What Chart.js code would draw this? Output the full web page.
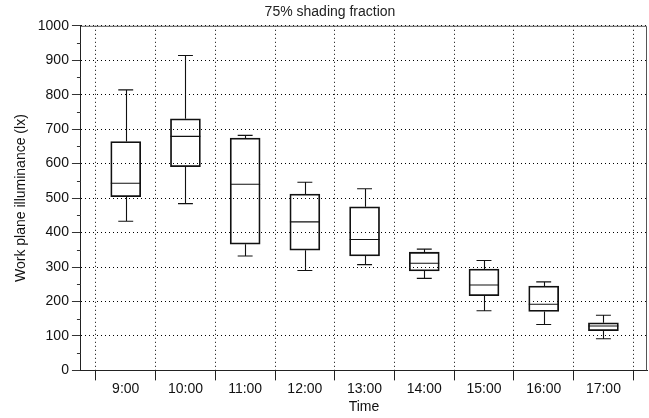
<!DOCTYPE html>
<html>
<head>
<meta charset="utf-8">
<script src="https://cdn.jsdelivr.net/npm/chart.js@4.4.0/dist/chart.umd.min.js"></script>
<style>
  html, body { margin: 0; padding: 0; background: #fff; }
  #wrap { width: 649px; height: 418px; }
</style>
</head>
<body>
<div id="wrap"><canvas id="boxChart"></canvas></div>
<script>
// Work plane illuminance per hour (75% shading fraction)
const times = ["9:00", "10:00", "11:00", "12:00", "13:00", "14:00", "15:00", "16:00", "17:00"];
const whiskerLow = [433, 484, 332, 290, 307, 267, 173, 133, 92];
const q1 = [504, 591, 366, 349, 332, 289, 217, 171, 115];
const median = [543, 679, 540, 431, 380, 311, 248, 192, 129];
const q3 = [664, 730, 674, 512, 475, 343, 294, 245, 138];
const whiskerHigh = [814, 914, 682, 546, 527, 352, 319, 257, 160];
const minorTicks = [50, 150, 250, 350, 450, 550, 650, 750, 850, 950];

const lineColor = "#111";

Chart.defaults.font.family = "'Liberation Sans', Arial, sans-serif";
Chart.defaults.font.size = 14;
Chart.defaults.color = "#111";

// medians, whiskers, minor ticks and the top/right frame
const boxExtras = {
  id: "boxExtras",
  afterDatasetsDraw(chart) {
    const { ctx, scales: { x, y } } = chart;
    ctx.save();
    ctx.strokeStyle = lineColor;
    ctx.lineWidth = 1.1;
    times.forEach((t, i) => {
      const cx = Math.round(x.getPixelForValue(i + 1)) + 0.5;
      const boxL = x.getPixelForValue(i + 0.75);
      const boxR = x.getPixelForValue(i + 1.25);
      const capL = x.getPixelForValue(i + 0.875);
      const capR = x.getPixelForValue(i + 1.125);
      const yMed = y.getPixelForValue(median[i]);
      const yQ1 = y.getPixelForValue(q1[i]);
      const yQ3 = y.getPixelForValue(q3[i]);
      const yLo = y.getPixelForValue(whiskerLow[i]);
      const yHi = y.getPixelForValue(whiskerHigh[i]);
      ctx.beginPath();
      ctx.moveTo(boxL, yMed); ctx.lineTo(boxR, yMed);
      ctx.moveTo(cx, yQ3); ctx.lineTo(cx, yHi);
      ctx.moveTo(capL, yHi); ctx.lineTo(capR, yHi);
      ctx.moveTo(cx, yQ1); ctx.lineTo(cx, yLo);
      ctx.moveTo(capL, yLo); ctx.lineTo(capR, yLo);
      ctx.stroke();
    });
    ctx.restore();
  },
  afterDraw(chart) {
    const { ctx, chartArea, scales: { y } } = chart;
    ctx.save();
    ctx.strokeStyle = "#333";
    ctx.lineWidth = 1;
    ctx.beginPath();
    minorTicks.forEach(v => {
      const py = Math.round(y.getPixelForValue(v)) + 0.5;
      ctx.moveTo(chartArea.left - 4, py);
      ctx.lineTo(chartArea.left, py);
    });
    ctx.stroke();
    ctx.strokeStyle = "#555";
    ctx.beginPath();
    ctx.moveTo(chartArea.left, chartArea.top + 0.5);
    ctx.lineTo(chartArea.right - 0.5, chartArea.top + 0.5);
    ctx.lineTo(chartArea.right - 0.5, chartArea.bottom);
    ctx.stroke();
    ctx.restore();
  }
};

const halfTick = v => !Number.isInteger(v);

new Chart(document.getElementById("boxChart"), {
  type: "bar",
  data: {
    datasets: [
      {
        label: "Illuminance",
        data: times.map((t, i) => ({ x: i + 1, y: [q1[i], q3[i]] })),
        backgroundColor: "rgba(0,0,0,0)",
        borderColor: lineColor,
        borderWidth: 1.1,
        borderSkipped: false,
        barThickness: 30,
      },
    ],
  },
  options: {
    responsive: true,
    maintainAspectRatio: false,
    animation: false,
    layout: { padding: { left: 13, right: 2, top: 0, bottom: 2 } },
    plugins: {
      legend: { display: false },
      tooltip: { enabled: false },
      title: {
        display: true,
        text: "75% shading fraction",
        color: "#222",
        font: { size: 14, weight: "normal" },
        padding: { top: 4, bottom: 5 },
      },
    },
    scales: {
      x: {
        type: "linear",
        offset: false,
        min: 0.25,
        max: 9.73,
        afterBuildTicks: scale => {
          const ticks = [];
          for (let v = 0.5; v <= 9.5; v += 0.5) ticks.push({ value: v });
          scale.ticks = ticks;
        },
        grid: {
          offset: false,
          color: c => (c.tick && halfTick(c.tick.value) ? "#000" : "rgba(0,0,0,0)"),
          tickColor: c => (c.tick && halfTick(c.tick.value) ? "#222" : "rgba(0,0,0,0)"),
          tickLength: 10,
        },
        border: { color: "#222", width: 1, dash: [1, 3] },
        ticks: {
          autoSkip: false,
          maxRotation: 0,
          padding: 0,
          color: "#111",
          callback: v => (Number.isInteger(v) ? times[v - 1] : ""),
        },
        title: { display: true, text: "Time", color: "#111", padding: { top: 2, bottom: 0 } },
      },
      y: {
        min: 0,
        max: 1000,
        ticks: { stepSize: 100, padding: 3, color: "#111", callback: v => String(v) },
        grid: { color: "#000", tickColor: "#333", tickLength: 9 },
        border: { color: "#222", width: 1, dash: [1, 3] },
        title: {
          display: true,
          text: "Work plane illuminance (lx)",
          color: "#111",
          padding: { top: 0, bottom: 5 },
        },
      },
    },
  },
  plugins: [boxExtras],
});
</script>
</body>
</html>
